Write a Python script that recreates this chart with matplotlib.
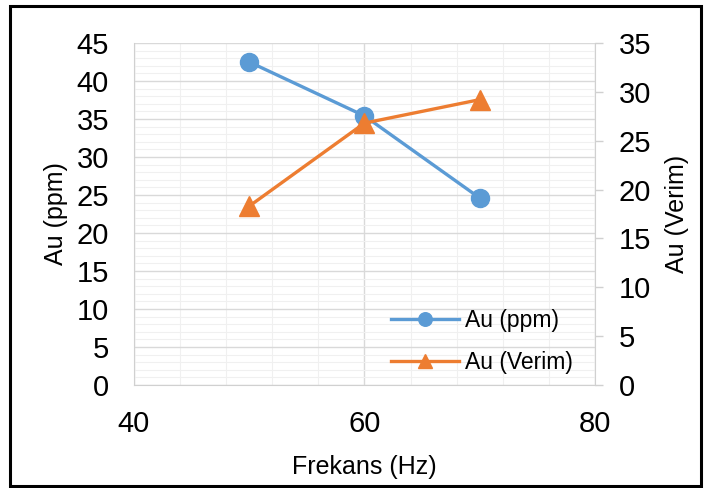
import matplotlib
matplotlib.use('Agg')

import matplotlib.pyplot as plt
from matplotlib.patches import Rectangle
from matplotlib.ticker import MultipleLocator

plt.rcParams['font.family'] = ['Liberation Sans', 'DejaVu Sans']

# Veriler
frekans = [50, 60, 70]
au_ppm = [42.5, 35.4, 24.6]
au_verim = [18.3, 26.8, 29.2]

mavi = "#5B9BD5"
turuncu = "#ED7D31"

fig = plt.figure(figsize=(7.05, 4.88), dpi=100)
ax = fig.add_axes([0.190, 0.211, 0.654, 0.701])
ax2 = ax.twinx()

# Eksen sınırları ve ızgara
ax.set_xlim(40, 80)
ax.set_ylim(0, 45)
ax2.set_ylim(0, 35)
ax.xaxis.set_major_locator(MultipleLocator(20))
ax.xaxis.set_minor_locator(MultipleLocator(4))
ax.yaxis.set_major_locator(MultipleLocator(5))
ax.yaxis.set_minor_locator(MultipleLocator(1))
ax2.yaxis.set_major_locator(MultipleLocator(5))

ax.grid(which='major', color='#D9D9D9', linewidth=1.0)
ax.grid(which='minor', color='#F0F0F0', linewidth=0.8)
ax.set_axisbelow(True)

for a in (ax, ax2):
    for s in a.spines.values():
        s.set_visible(False)
ax.spines['left'].set_visible(True)
ax.spines['left'].set_color('#D0D0D0')
ax.spines['bottom'].set_visible(True)
ax.spines['bottom'].set_color('#D0D0D0')
ax2.spines['right'].set_visible(True)
ax2.spines['right'].set_color('#D0D0D0')

ax.tick_params(axis='both', which='both', length=0, labelsize=21, colors='black')
ax.tick_params(axis='x', pad=18)
ax.tick_params(axis='y', pad=18)
ax2.tick_params(axis='y', which='major', length=6, width=1, color='#D0D0D0',
                labelsize=21, pad=11)
ax2.tick_params(axis='y', which='minor', length=0)

# Çizgiler
l1, = ax.plot(frekans, au_ppm, color=mavi, linewidth=2.4, marker='o',
              markersize=13, label='Au (ppm)', zorder=3)
l2, = ax2.plot(frekans, au_verim, color=turuncu, linewidth=2.4, marker='^',
               markersize=14, label='Au (Verim)', zorder=3)

ax.set_xlabel("Frekans (Hz)", fontsize=18, labelpad=12)
ax.set_ylabel("Au (ppm)", fontsize=18, labelpad=6)
ax2.set_ylabel("Au (Verim)", fontsize=18, rotation=90, labelpad=10)

ax2.legend(handles=[l1, l2], loc='lower right', frameon=False, fontsize=16.5,
           handlelength=3.0, labelspacing=0.85, handletextpad=0.25, markerscale=0.75,
           bbox_to_anchor=(0.842, 0.191), bbox_transform=fig.transFigure)

# Dış çerçeve
fig.patches.append(Rectangle((0.014, 0.004), 0.98, 0.983, transform=fig.transFigure,
                             fill=False, edgecolor='black', linewidth=2.2))

plt.savefig("out.png", dpi=100)
plt.close()
